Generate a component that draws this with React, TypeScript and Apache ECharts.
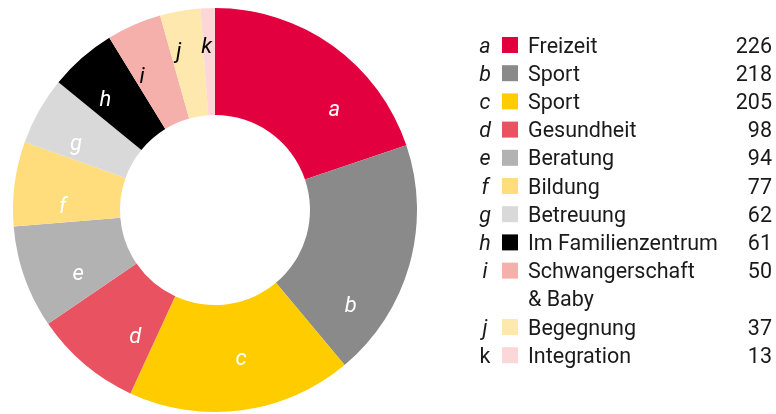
import React, { useEffect, useRef } from "react";
import * as echarts from "echarts";

const letters = ["a", "b", "c", "d", "e", "f", "g", "h", "i", "j", "k"];
const names = [
  "Freizeit",
  "Sport",
  "Sport",
  "Gesundheit",
  "Beratung",
  "Bildung",
  "Betreuung",
  "Im Familienzentrum",
  "Schwangerschaft\n& Baby",
  "Begegnung",
  "Integration",
];
const values = [226, 218, 205, 98, 94, 77, 62, 61, 50, 37, 13];
const colors = [
  "#e3003f",
  "#8a8a8a",
  "#ffcc00",
  "#e85261",
  "#b2b2b2",
  "#ffdd7d",
  "#d9d9d9",
  "#000000",
  "#f5b0ac",
  "#fee8ad",
  "#fbd8d7",
];
const labelColors = ["#fff", "#fff", "#fff", "#fff", "#fff", "#fff", "#fff", "#fff", "#000", "#000", "#000"];
// small per-label nudges (px) to match the hand placed labels
const labelNudgeX = [31, -10, 6, 18, 6, -2, -7, -10, -12, -10, -3];
const labelNudgeY = [22, 54, -3, 10, 12, 15, 7, 3, 4, -10, -13];

const FONT = "Roboto, 'Open Sans', sans-serif";
const TEXT = "#1a1a1a";
const FS = 21.5;

export default function App() {
  const ref = useRef<HTMLDivElement>(null);
  useEffect(() => {
    document.body.style.margin = "0";
    const chart = echarts.init(ref.current!, null, { renderer: "svg" });

    const graphics: any[] = [];
    const rowTop = 45;
    const rowStep = 28.2;
    let row = 0;
    names.forEach((nm, i) => {
      const yc = rowTop + row * rowStep;
      const italic = letters[i] !== "k";
      graphics.push({
        type: "text",
        x: 485,
        y: yc,
        style: {
          text: letters[i],
          font: `${italic ? "italic " : ""}${FS}px ${FONT}`,
          fill: TEXT,
          align: "center",
          verticalAlign: "middle",
          textAlign: "center",
          textVerticalAlign: "middle",
        },
      });
      graphics.push({
        type: "rect",
        shape: { x: 502, y: yc - 8, width: 16, height: 16 },
        style: { fill: colors[i] },
      });
      const lines = nm.split("\n");
      lines.forEach((ln, k) => {
        graphics.push({
          type: "text",
          x: 528,
          y: yc + k * rowStep,
          style: {
            text: ln,
            font: `${FS}px ${FONT}`,
            fill: TEXT,
            align: "left",
            verticalAlign: "middle",
            textAlign: "left",
            textVerticalAlign: "middle",
          },
        });
      });
      graphics.push({
        type: "text",
        x: 772,
        y: yc,
        style: {
          text: String(values[i]),
          font: `${FS}px ${FONT}`,
          fill: TEXT,
          align: "right",
          verticalAlign: "middle",
          textAlign: "right",
          textVerticalAlign: "middle",
        },
      });
      row += lines.length;
    });

    chart.setOption({
      animation: false,
      graphic: graphics,
      series: [
        {
          type: "pie",
          center: [215, 210],
          radius: [95, 202],
          startAngle: 90,
          clockwise: true,
          avoidLabelOverlap: false,
          itemStyle: { borderWidth: 0 },
          label: {
            show: true,
            position: "inside",
            formatter: (p: any) => letters[p.dataIndex],
            fontFamily: FONT,
            fontStyle: "italic",
            fontSize: 22,
          },
          labelLine: { show: false },
          labelLayout: (p: any) => ({ dx: labelNudgeX[p.dataIndex], dy: labelNudgeY[p.dataIndex] }),
          emphasis: { disabled: true },
          data: values.map((v, i) => ({
            value: v,
            name: letters[i],
            itemStyle: { color: colors[i] },
            label: { color: labelColors[i] },
          })),
        },
      ],
    });
    return () => chart.dispose();
  }, []);
  return (
    <div
      ref={ref}
      style={{ position: "fixed", left: 0, top: 0, width: 776, height: 414 }}
    />
  );
}
